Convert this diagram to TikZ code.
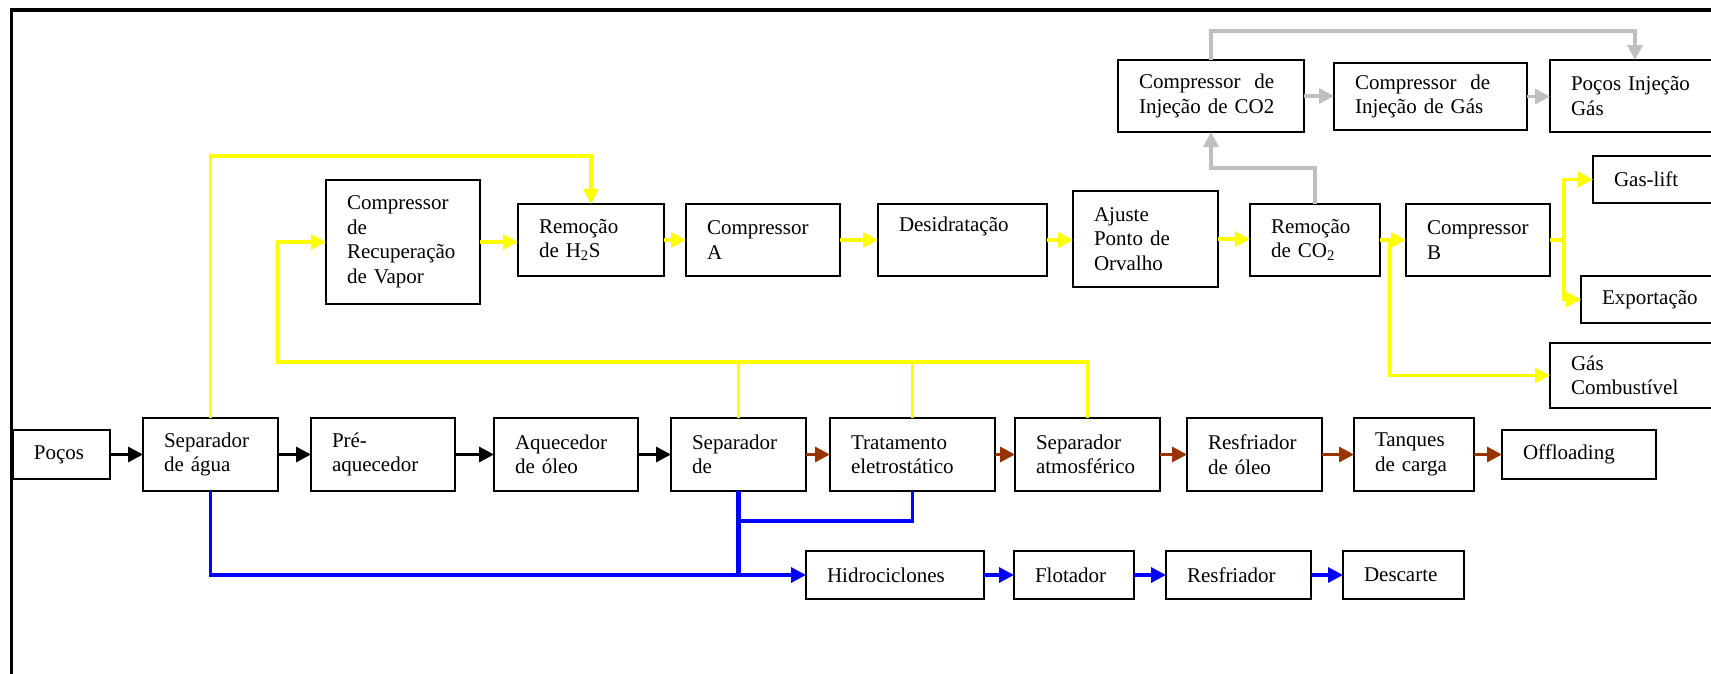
\documentclass[tikz,border=0pt]{standalone}
\usepackage{fontspec}
\setmainfont{Liberation Serif}
\usetikzlibrary{arrows.meta,calc}
\definecolor{yel}{RGB}{255,255,0}
\definecolor{blu}{RGB}{0,0,255}
\definecolor{gry}{RGB}{191,191,191}
\definecolor{brn}{RGB}{153,51,0}
\tikzset{
  box/.style={draw, line width=1.6pt, rectangle, inner xsep=21pt, inner ysep=0pt,
    outer sep=0pt, align=left, anchor=north west,
    font=\fontsize{21}{24.5}\selectfont},
  con/.style={line width=3.2pt},
  tip/.style={-{Triangle[length=15pt,width=15pt]}},
  kcon/.style={con, black, tip},
  rcon/.style={con, brn, tip},
  ycon/.style={con, yel},
  gcon/.style={con, gry},
  bcon/.style={con, blu},
}
\newcommand\mybox[6]{%
  \pgfmathsetmacro\bw{#4-#2}\pgfmathsetmacro\bh{#5-#3}\pgfmathsetmacro\tw{#4-#2-42}%
  \node[box, minimum width=\bw pt, minimum height=\bh pt, text width=\tw pt] (#1) at (#2,#3) {#6};}
\begin{document}
\begin{tikzpicture}[x=1pt,y=-1pt]
\useasboundingbox (0,0) rectangle (1711,673);
\clip (0,0) rectangle (1711,673);
\fill[white] (0,0) rectangle (1711,673);
% frame
\draw[line width=3.5pt] (11.5,700) -- (11.5,10) -- (1750,10);
% main row
\mybox{pocos}{13}{430}{110}{479}{Poços}
\mybox{sepagua}{143}{418}{278}{491}{Separador\\de água}
\mybox{pre}{311}{418}{455}{491}{Pré-\\aquecedor}
\mybox{aq}{494}{418}{638}{491}{Aquecedor\\de óleo}
\mybox{sepde}{671}{418}{806}{491}{Separador\\de}
\mybox{trat}{830}{418}{995}{491}{Tratamento\\eletrostático}
\mybox{sepatm}{1015}{418}{1160}{491}{Separador\\atmosférico}
\mybox{resf}{1187}{418}{1322}{491}{Resfriador\\de óleo}
\mybox{tanq}{1354}{418}{1474}{491}{Tanques\\de carga}
\mybox{off}{1502}{430}{1656}{479}{Offloading}
% water row
\mybox{hid}{806}{551}{984}{599}{Hidrociclones}
\mybox{flot}{1014}{551}{1134}{599}{Flotador}
\mybox{resfb}{1166}{551}{1311}{599}{Resfriador}
\mybox{desc}{1343}{551}{1464}{599}{Descarte}
% gas row
\mybox{crv}{326}{180}{480}{304}{Compressor\\de\\Recuperação\\de Vapor}
\mybox{hts}{518}{204}{664}{276}{Remoção\\de H\textsubscript{2}S}
\mybox{compa}{686}{204}{840}{276}{Compressor\\A}
\mybox{desid}{878}{204}{1047}{276}{Desidratação\\\strut}
\mybox{ajuste}{1073}{191}{1218}{287}{Ajuste\\Ponto de\\Orvalho}
\mybox{remco}{1250}{204}{1380}{276}{Remoção\\de CO\textsubscript{2}}
\mybox{compb}{1406}{204}{1550}{276}{Compressor\\B}
\mybox{coinj}{1118}{60}{1304}{132}{Compressor~~de\\Injeção de CO2}
\mybox{gasinj}{1334}{63}{1527}{130}{Compressor~~de\\Injeção de Gás}
\mybox{pinj}{1550}{60}{1750}{132}{Poços Injeção\\Gás}
\mybox{glift}{1593}{156}{1750}{203}{Gas-lift}
\mybox{expo}{1581}{276}{1750}{323}{Exportação}
\mybox{gcomb}{1550}{343}{1750}{408}{Gás\\Combustível}
% black arrows
\draw[kcon] (pocos) -- (sepagua);
\draw[kcon] (sepagua) -- (pre);
\draw[kcon] (pre) -- (aq);
\draw[kcon] (aq) -- (sepde);
% brown arrows
\draw[rcon] (sepde) -- (trat);
\draw[rcon] (trat) -- (sepatm);
\draw[rcon] (sepatm) -- (resf);
\draw[rcon] (resf) -- (tanq);
\draw[rcon] (tanq) -- (off);
% blue
\coordinate (bj) at (738.5,521);
\draw[bcon, tip] (sepagua.south) |- (hid.west);
\draw[bcon, line width=4.5pt] (sepde.south) -- (sepde.south |- hid.west);
\draw[bcon] (trat.south) |- (bj);
\draw[bcon, tip] (hid) -- (flot);
\draw[bcon, tip] (flot) -- (resfb);
\draw[bcon, tip] (resfb) -- (desc);
% yellow
\coordinate (ytop) at (210,156);
\coordinate (busr) at (1087.5,362);
\coordinate (busl) at (277.5,362);
\coordinate (fj) at (1389.5,240);
\coordinate (cj) at (1564,240);
\draw[ycon, tip] (sepagua.north) -- (sepagua.north |- ytop) -| (hts.north);
\draw[ycon, tip] (sepatm.north) -- (sepatm.north |- busr) -- (busl) |- (crv.west);
\draw[ycon] (sepde.north) -- (sepde.north |- busl);
\draw[ycon] (trat.north) -- (trat.north |- busl);
\draw[ycon, tip] (crv.east) -- (crv.east -| hts.west);
\draw[ycon, tip] (hts) -- (compa);
\draw[ycon, tip] (compa) -- (desid);
\draw[ycon, tip] (desid.east) -- (desid.east -| ajuste.west);
\draw[ycon, tip] (ajuste.east) -- (ajuste.east -| remco.west);
\draw[ycon, tip] (remco) -- (compb);
\draw[ycon, tip] (fj) |- (gcomb.west);
\draw[ycon] (compb.east) -- (cj);
\draw[ycon, tip] (cj) |- (glift.west);
\draw[ycon, tip] (cj) |- (expo.west);
% gray
\coordinate (g1) at (1211,168);
\coordinate (g2) at (1635,31);
\draw[gcon, tip] (remco.north) |- (g1) -- (coinj.south);
\draw[gcon, tip] (coinj.north) |- (g2) -- (g2 |- pinj.north);
\draw[gcon, tip] (coinj.east) -- (coinj.east -| gasinj.west);
\draw[gcon, tip] (gasinj.east) -- (gasinj.east -| pinj.west);
\end{tikzpicture}
\end{document}
